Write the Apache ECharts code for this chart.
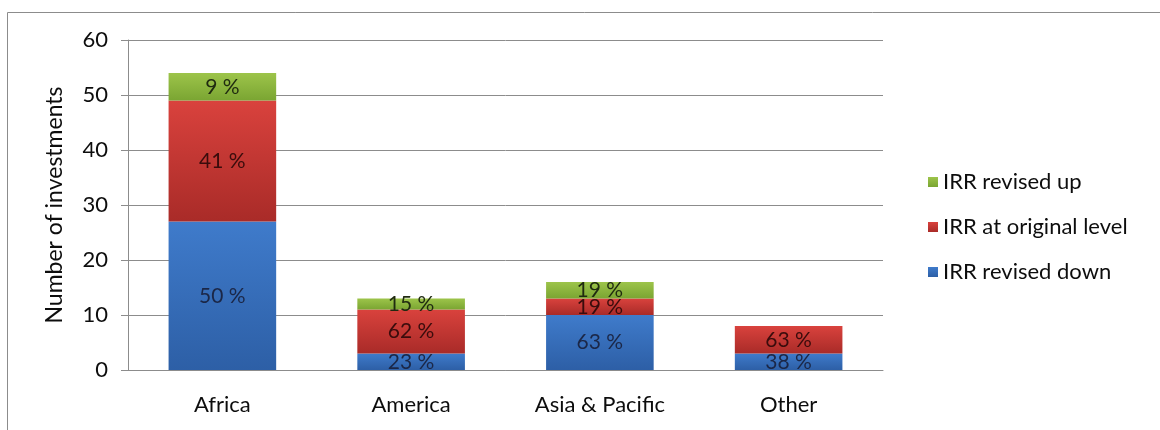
<!DOCTYPE html>
<html>
<head>
<meta charset="utf-8">
<script src="https://cdn.jsdelivr.net/npm/echarts@6/dist/echarts.min.js"></script>
<style>
  html, body { margin: 0; padding: 0; background: #ffffff; }
  #chart { width: 1160px; height: 430px; }
</style>
</head>
<body>
<div id="chart"></div>
<script>
// Regions and number of investments per IRR outcome
const categories = ['Africa', 'America', 'Asia & Pacific', 'Other'];
const revisedDown = [27, 3, 10, 3];
const originalLevel = [22, 8, 3, 5];
const revisedUp = [5, 2, 3, 0];
const yTicks = [0, 10, 20, 30, 40, 50, 60];

const totals = categories.map((_, i) => revisedDown[i] + originalLevel[i] + revisedUp[i]);

const FONT = 'Lato, "Open Sans", sans-serif';
const TEXT = '#0d0d0d';

function grad(top, bottom) {
  return new echarts.graphic.LinearGradient(0, 0, 0, 1, [
    { offset: 0, color: top },
    { offset: 1, color: bottom }
  ]);
}

function pctLabel(labelColor) {
  return {
    show: true,
    position: 'inside',
    fontFamily: FONT,
    fontSize: 21,
    color: labelColor,
    formatter: p => p.value > 0 ? Math.round(p.value / totals[p.dataIndex] * 100) + ' %' : ''
  };
}

const chart = echarts.init(document.getElementById('chart'), null, { renderer: 'canvas' });

chart.setOption({
  animation: false,
  backgroundColor: '#ffffff',
  graphic: [{
    type: 'rect',
    shape: { x: 7.5, y: 12.5, width: 1160, height: 420 },
    style: { fill: 'none', stroke: '#8c8c8c', lineWidth: 1 },
    silent: true,
    z: -10
  }],
  grid: { left: 128, right: 277, top: 40, bottom: 60 },
  legend: {
    orient: 'vertical',
    left: 923,
    top: 166,
    itemWidth: 10,
    itemHeight: 10,
    itemGap: 23,
    icon: 'rect',
    textStyle: { fontFamily: FONT, fontSize: 22, color: TEXT },
    data: ['IRR revised up', 'IRR at original level', 'IRR revised down']
  },
  xAxis: {
    type: 'category',
    data: categories,
    axisLine: { lineStyle: { color: '#8c8c8c', width: 1 } },
    axisTick: { show: false },
    axisLabel: { fontFamily: FONT, fontSize: 22, color: TEXT, margin: 24 }
  },
  yAxis: {
    type: 'value',
    min: yTicks[0],
    max: yTicks[yTicks.length - 1],
    interval: 10,
    name: 'Number of investments',
    nameLocation: 'middle',
    nameGap: 62,
    nameTextStyle: { fontFamily: FONT, fontSize: 23, color: TEXT },
    axisLine: { show: true, lineStyle: { color: '#8c8c8c', width: 1 } },
    axisTick: { show: true, length: 7, lineStyle: { color: '#8c8c8c' } },
    axisLabel: { fontFamily: FONT, fontSize: 22, color: TEXT, margin: 20 },
    splitLine: { lineStyle: { color: '#8c8c8c', width: 1 } }
  },
  series: [
    {
      name: 'IRR revised down',
      type: 'bar',
      stack: 'total',
      barCategoryGap: '43%',
      data: revisedDown,
      itemStyle: { color: grad('#3f7bcb', '#2d5fa6') },
      label: pctLabel('#1b2747')
    },
    {
      name: 'IRR at original level',
      type: 'bar',
      stack: 'total',
      data: originalLevel,
      itemStyle: { color: grad('#d9423d', '#a92b28') },
      label: pctLabel('#3a0c0c')
    },
    {
      name: 'IRR revised up',
      type: 'bar',
      stack: 'total',
      data: revisedUp,
      itemStyle: { color: grad('#9dc44a', '#7aa532') },
      label: pctLabel('#1f2a10')
    }
  ]
});
</script>
</body>
</html>
